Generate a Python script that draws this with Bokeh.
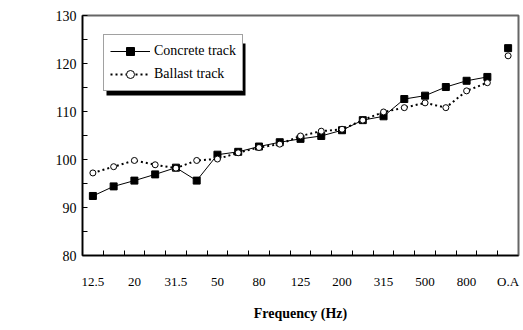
import math
from bokeh.plotting import figure
from bokeh.models import (Range1d, FixedTicker, Legend, LegendItem, Label, BoxAnnotation)
from bokeh.embed import file_html
from bokeh.resources import INLINE

categories = ["12.5", "16", "20", "25", "31.5", "40", "50", "63", "80", "100",
              "125", "160", "200", "250", "315", "400", "500", "630", "800", "1000", "O.A"]
concrete = [92.4, 94.4, 95.6, 96.9, 98.3, 95.6, 101.0, 101.6, 102.7, 103.6,
            104.3, 104.9, 106.1, 108.2, 109.0, 112.6, 113.3, 115.1, 116.4, 117.2]
ballast = [97.2, 98.5, 99.8, 98.9, 98.2, 99.8, 100.1, 101.4, 102.5, 103.2,
           104.9, 105.9, 106.3, 108.2, 109.9, 110.8, 111.8, 110.8, 114.3, 116.0]
concrete_oa = 123.2
ballast_oa = 121.6
y_ticks = [80, 90, 100, 110, 120, 130]
FONT = "'Liberation Serif', serif"

n = len(categories)
idx = list(range(n - 1))

p = figure(width=522, height=328, output_backend="svg", toolbar_location=None,
           x_range=Range1d(-0.5, n - 0.5), y_range=Range1d(80, 130),
           min_border_left=82, min_border_right=4, min_border_top=15, min_border_bottom=73)
p.xgrid.visible = False
p.ygrid.visible = False
p.outline_line_color = "#666666"
p.outline_line_width = 2
p.background_fill_color = "white"
p.border_fill_color = "white"

xa = p.xaxis[0]
xa.ticker = FixedTicker(ticks=list(range(0, n, 2)), minor_ticks=[i + 0.5 for i in range(n - 1)])
xa.major_label_overrides = {i: categories[i] for i in range(0, n, 2)}
xa.major_tick_in = 0
xa.major_tick_out = 0
xa.minor_tick_in = 5
xa.minor_tick_out = 0
xa.axis_line_color = "black"
xa.axis_line_width = 1.5
xa.minor_tick_line_color = "black"
xa.major_label_text_font = FONT
xa.major_label_text_font_size = "13px"
xa.major_label_text_color = "black"
xa.major_label_standoff = 18
xa.axis_label = "Frequency (Hz)"
xa.axis_label_text_font = FONT
xa.axis_label_text_font_style = "bold"
xa.axis_label_text_font_size = "14px"
xa.axis_label_text_color = "black"
xa.axis_label_standoff = 14

ya = p.yaxis[0]
ya.ticker = FixedTicker(ticks=y_ticks, minor_ticks=[85, 95, 105, 115, 125])
ya.major_tick_in = 5
ya.major_tick_out = 0
ya.minor_tick_in = 5
ya.minor_tick_out = 0
ya.axis_line_color = "black"
ya.axis_line_width = 1.5
ya.major_tick_line_color = "black"
ya.minor_tick_line_color = "black"
ya.major_label_text_font = FONT
ya.major_label_text_font_size = "14px"
ya.major_label_text_color = "black"
ya.major_label_standoff = 6

cl = p.line(idx, concrete, line_color="black", line_width=1)
cm = p.scatter(idx, concrete, marker="square", size=7, fill_color="black", line_color="black")
bl = p.line(idx, ballast, line_color="black", line_width=2, line_dash="2 3")
bm = p.scatter(idx, ballast, marker="circle", size=6, fill_color="white", line_color="black", line_width=1)
p.scatter([n - 1], [concrete_oa], marker="square", size=7, fill_color="black", line_color="black")
p.scatter([n - 1], [ballast_oa], marker="circle", size=6, fill_color="white", line_color="black", line_width=1)

shadow = BoxAnnotation(left=106, right=245, top=43, bottom=95,
                       left_units="canvas", right_units="canvas", top_units="canvas", bottom_units="canvas",
                       fill_color="black", fill_alpha=1, line_color=None)
p.add_layout(shadow)

legend = Legend(items=[LegendItem(label="Concrete track", renderers=[cl, cm]),
                       LegendItem(label="Ballast track", renderers=[bl, bm])],
                location=(21, 164), orientation="vertical",
                label_text_font=FONT, label_text_font_size="14px", label_text_color="black",
                glyph_width=40, glyph_height=20, spacing=3, padding=6, margin=0,
                label_standoff=4,
                border_line_color="#444444", border_line_width=1,
                background_fill_color="white", background_fill_alpha=1)
p.add_layout(legend, "center")

p.add_layout(Label(x=-3.85, y=114, text=".....", angle=math.pi / 2, text_font_size="7px",
                   text_color="#555555", text_font=FONT))

open("out.html", "w").write(file_html(p, INLINE))
